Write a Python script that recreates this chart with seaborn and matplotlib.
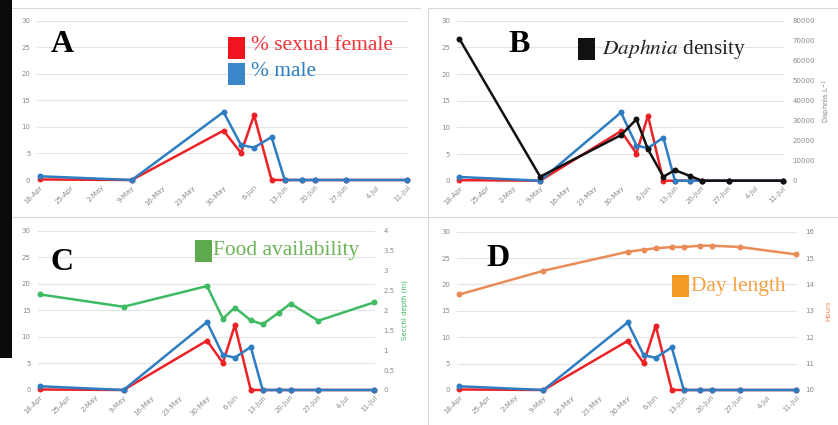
import pandas as pd
import matplotlib
matplotlib.use('Agg')
import matplotlib.pyplot as plt
import matplotlib.dates as mdates
from matplotlib.patches import Rectangle
from matplotlib.lines import Line2D
import seaborn as sns

# sampling dates and measured series
dates = ['2018-04-18', '2018-05-09', '2018-05-30', '2018-06-03', '2018-06-06', '2018-06-10',
         '2018-06-13', '2018-06-17', '2018-06-20', '2018-06-27', '2018-07-11']
sexual_female = [0.1, 0.0, 9.3, 5.1, 12.2, 0.0, 0.0, 0.0, 0.0, 0.0, 0.0]
male = [0.7, 0.0, 12.8, 6.6, 6.1, 8.1, 0.0, 0.0, 0.0, 0.0, 0.0]
daphnia = [71000, 2000, 22800, 30700, 15700, 2000, 5300, 2300, 0, 0, 0]
secchi = [2.40, 2.09, 2.61, 1.79, 2.07, 1.75, 1.65, 1.94, 2.17, 1.74, 2.20]
day_length = [13.62, 14.52, 15.24, 15.32, 15.37, 15.42, 15.42, 15.47, 15.47, 15.42, 15.14]

tick_dates = ['2018-04-18', '2018-04-25', '2018-05-02', '2018-05-09', '2018-05-16', '2018-05-23',
              '2018-05-30', '2018-06-06', '2018-06-13', '2018-06-20', '2018-06-27', '2018-07-04',
              '2018-07-11']
tick_labels = ['18-Apr', '25-Apr', '2-May', '9-May', '16-May', '23-May', '30-May', '6-Jun',
               '13-Jun', '20-Jun', '27-Jun', '4-Jul', '11-Jul']
left_ticks = [0, 5, 10, 15, 20, 25, 30]
daphnia_ticks = [0, 10000, 20000, 30000, 40000, 50000, 60000, 70000, 80000]
secchi_ticks = [0, 0.5, 1, 1.5, 2, 2.5, 3, 3.5, 4]
secchi_labels = ['0', '0.5', '1', '1.5', '2', '2.5', '3', '3.5', '4']
hours_ticks = [10, 11, 12, 13, 14, 15, 16]

df = pd.DataFrame({'date': pd.to_datetime(dates), 'female': sexual_female, 'male': male,
                   'daphnia': daphnia, 'secchi': secchi, 'hours': day_length})

RED = '#EC2227'
BLUE = '#2E7DC3'
GREEN = '#3DBA62'
ORANGE = '#E98C57'
GRAY = '#8a8a8a'
LINE = dict(lw=1.8, marker='o', markersize=4.3, markeredgewidth=0, clip_on=False)

sns.set_style('white')
plt.rcParams['font.family'] = ['DejaVu Sans']

W, H = 838, 425
fig = plt.figure(figsize=(W / 100, H / 100), dpi=100)
fig.patch.set_facecolor('white')

d0 = mdates.date2num(pd.Timestamp(tick_dates[0]))
d1 = mdates.date2num(pd.Timestamp(tick_dates[-1]))
pad_l, pad_r = 0.6, 0.3


def make_axes(px0, px1, ybot, ytop):
    scale = (px1 - px0) / (d1 - d0)
    left = px0 - pad_l * scale
    right = px1 + pad_r * scale
    ax = fig.add_axes([left / W, 1 - ybot / H, (right - left) / W, (ybot - ytop) / H])
    ax.set_xlim(d0 - pad_l, d1 + pad_r)
    ax.set_ylim(0, 30)
    ax.set_yticks(left_ticks)
    ax.set_xticks(mdates.date2num(pd.to_datetime(tick_dates)))
    ax.set_xticklabels(tick_labels, rotation=45, ha='right', rotation_mode='anchor')
    ax.tick_params(axis='both', length=0, labelsize=5, labelcolor=GRAY, pad=3)
    ax.tick_params(axis='y', pad=5)
    ax.grid(axis='y', color='#e4e4e4', linewidth=0.8)
    ax.set_axisbelow(True)
    for s in ax.spines.values():
        s.set_visible(False)
    ax.set_facecolor('none')
    return ax


def sex_lines(ax):
    sns.lineplot(data=df, x='date', y='female', ax=ax, color=RED, **LINE)
    sns.lineplot(data=df, x='date', y='male', ax=ax, color=BLUE, **LINE)
    ax.set_xlim(d0 - pad_l, d1 + pad_r)
    ax.set_xlabel('')
    ax.set_ylabel('')


def right_axis(ax, ticks, labels, ylim):
    ax2 = ax.twinx()
    ax2.set_ylim(*ylim)
    ax2.set_yticks(ticks)
    ax2.set_yticklabels(labels)
    ax2.tick_params(axis='y', length=0, labelsize=5, labelcolor=GRAY, pad=6)
    for s in ax2.spines.values():
        s.set_visible(False)
    ax2.grid(False)
    return ax2


def finish_right(ax2, title, color, pad):
    ax2.set_xlim(d0 - pad_l, d1 + pad_r)
    ax2.set_xlabel('')
    ax2.set_ylabel(title, fontsize=5, color=color, rotation=90, labelpad=pad)


def legend_box(x, y, color, w=17, h=22):
    fig.patches.append(Rectangle((x / W, 1 - (y + h) / H), w / W, h / H,
                                 transform=fig.transFigure, facecolor=color,
                                 edgecolor='none'))


def ftext(x, y, s, **kw):
    fig.text(x / W, 1 - y / H, s, va='center', **kw)


# panel A
axA = make_axes(40, 407, 180, 20.7)
sex_lines(axA)

# panel B
axB = make_axes(459.3, 782.7, 180.7, 20.7)
sex_lines(axB)
axB2 = right_axis(axB, daphnia_ticks, [str(t) for t in daphnia_ticks], (0, 80000))
sns.lineplot(data=df, x='date', y='daphnia', ax=axB2, color='#111111', **LINE)
finish_right(axB2, 'Daphnia L$^{-1}$', GRAY, 4)

# panel C
axC = make_axes(40, 374, 390, 230.7)
sex_lines(axC)
axC2 = right_axis(axC, secchi_ticks, secchi_labels, (0, 4))
sns.lineplot(data=df, x='date', y='secchi', ax=axC2, color=GREEN, **LINE)
finish_right(axC2, 'Secchi depth (m)', GREEN, 5)

# panel D
axD = make_axes(459.3, 796, 390, 231.7)
sex_lines(axD)
axD2 = right_axis(axD, hours_ticks, [str(t) for t in hours_ticks], (10, 16))
sns.lineplot(data=df, x='date', y='hours', ax=axD2, color=ORANGE, **LINE)
finish_right(axD2, 'Hours', ORANGE, 8)

# panel letters and legends
serif = ['Liberation Serif', 'DejaVu Serif']
for x, y, s in [(62, 45, 'A'), (519, 45, 'B'), (62, 262, 'C'), (498, 258, 'D')]:
    ftext(x, y, s, ha='center', fontsize=23, fontweight='bold', family=serif, color='black')

LEG = dict(fontsize=15.4, family=serif)
legend_box(228, 37, '#F0141E')
ftext(251, 46, '% sexual female', color='#F0333A', **LEG)
legend_box(228, 63, '#3A85CC')
ftext(251, 72, '% male', color='#2F7EC0', **LEG)

legend_box(578, 38, '#111111')
ftext(602, 49, r'$\it{Daphnia}$ density', color='#222222', math_fontfamily='stix', **LEG)

legend_box(195, 240, '#5DAA4E')
ftext(213, 250, 'Food availability', color='#6CB256', **LEG)

legend_box(672, 275, '#F59A23')
ftext(691, 286, 'Day length', color='#F5A245', **LEG)

# panel frames and the dark strip at the left edge
fig.patches.append(Rectangle((0, 1 - 358 / H), 12 / W, 358 / H, transform=fig.transFigure,
                             facecolor='#0b0b0b', edgecolor='none'))
for xs, ys in [([12 / W, 420 / W], [1 - 8 / H] * 2), ([428 / W, 1], [1 - 8 / H] * 2),
               ([12 / W, 1], [1 - 217 / H] * 2), ([428 / W] * 2, [0, 1 - 8 / H])]:
    fig.lines.append(Line2D(xs, ys, transform=fig.transFigure, color='#d9d9d9', lw=0.8))

fig.savefig('out.png', dpi=100)
